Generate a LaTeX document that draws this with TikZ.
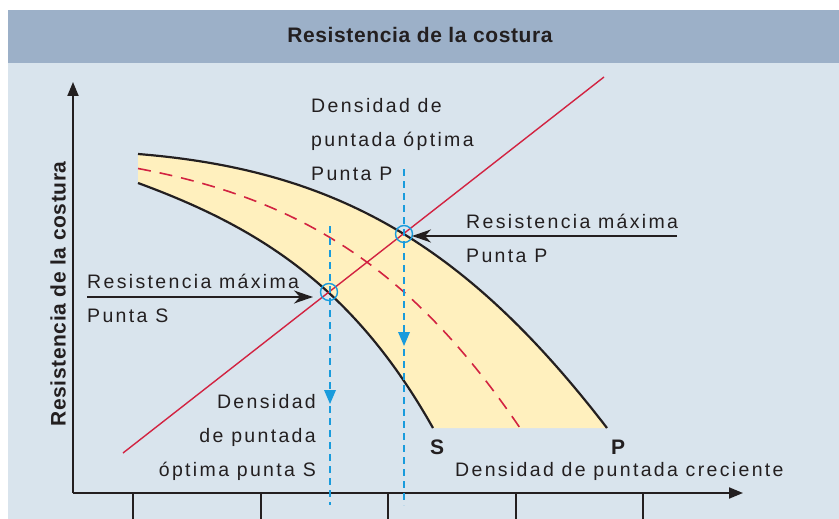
\documentclass[tikz,border=0pt]{standalone}
\usepackage{fontspec}
\setmainfont{Liberation Sans}
\newfontfamily\txtfont{Liberation Sans}[LetterSpace=12]
\newfontfamily\hdrfont{Liberation Sans}[LetterSpace=3]
\usetikzlibrary{arrows.meta}
\definecolor{hdrc}{RGB}{156,176,200}
\definecolor{bodyc}{RGB}{217,228,237}
\definecolor{bandc}{RGB}{255,240,190}
\definecolor{inkc}{RGB}{35,31,32}
\definecolor{redc}{RGB}{210,35,65}
\definecolor{bluec}{RGB}{25,155,220}
\tikzset{
  txt/.style={inner sep=0pt, text=inkc, font=\txtfont\fontsize{19.5}{34}\selectfont},
  boldtxt/.style={inner sep=0pt, text=inkc, font=\hdrfont\bfseries\fontsize{21}{25}\selectfont},
  curve/.style={draw=inkc, line width=2.2pt},
  axis/.style={draw=inkc, line width=2pt, -{Triangle[length=14pt,width=11pt]}},
  tick/.style={draw=inkc, line width=1.5pt},
  redline/.style={draw=redc, line width=1.4pt},
  reddash/.style={draw=redc, line width=1.6pt, dash pattern=on 13pt off 9pt},
  bluedash/.style={draw=bluec, line width=1.3pt, dash pattern=on 7pt off 5pt},
  ring/.style={circle, draw=bluec, line width=1.4pt, minimum size=17pt, inner sep=0pt},
  pointer/.style={draw=inkc, line width=1.6pt, -{Stealth[length=19pt,width=13pt,inset=6pt]}},
}
\begin{document}
\begin{tikzpicture}[x=1pt,y=-1pt]
\useasboundingbox (0,0) rectangle (839,519);
\fill[white] (0,0) rectangle (839,519);
\fill[hdrc] (8,10) rectangle (839,63);
\fill[bodyc] (8,63) rectangle (839,519);
\node[boldtxt] (title) at (420,35) {Resistencia de la costura};

% band
\fill[bandc] (138,154) .. controls (338,170) and (467,246) .. (607,428)
  -- (433,428) .. controls (353,286) and (258,227) .. (138,183) -- cycle;
\draw[curve] (138,154) .. controls (338,170) and (467,246) .. (607,428);
\draw[curve] (138,183) .. controls (258,227) and (353,286) .. (433,428);
\draw[reddash] (138,168.5) .. controls (298,198.5) and (410,266) .. (520,428);

% axes
\coordinate (O) at (73,493);
\coordinate (ytop) at (73,82);
\coordinate (xend) at (743,493);
\draw[axis] (O) -- (ytop);
\draw[axis] (O) -- (xend);
\foreach \i/\x in {1/133,2/261,3/388,4/516,5/643}{
  \coordinate (ta\i) at (\x,493);
  \coordinate (tb\i) at (\x,519);
  \draw[tick] (ta\i) -- (tb\i);
}

% red line
\coordinate (r0) at (123,453);
\coordinate (r1) at (604,77);
\draw[redline] (r0) -- (r1);

% blue dashed
\coordinate (bp0) at (404,169);
\coordinate (bp1) at (404,505);
\coordinate (bs0) at (330,226);
\coordinate (bs1) at (330,505);
\draw[bluedash] (bp0) -- (bp1);
\draw[bluedash] (bs0) -- (bs1);
\fill[bluec] (398,332) -- (410,332) -- (404,346) -- cycle;
\fill[bluec] (324,390) -- (336,390) -- (330,404) -- cycle;

% rings
\node[ring] (cp) at (404,234) {};
\node[ring] (cs) at (329,292) {};

% pointers
\coordinate (ap) at (677,236);
\coordinate (as) at (87,297);
\coordinate (ape) at (412,236);
\coordinate (ase) at (313,297);
\draw[pointer] (ap) -- (ape);
\draw[pointer] (as) -- (ase);

% texts (base anchor = baseline of last line)
\node[txt, anchor=base west, align=left] (t1) at (311,180) {Densidad de\\puntada óptima\\Punta P};
\node[txt, anchor=base west, align=left] (t2) at (466,262) {Resistencia máxima\\Punta P};
\node[txt, anchor=base west, align=left] (t3) at (87,322) {Resistencia máxima\\Punta S};
\node[txt, anchor=base east, align=right] (t4) at (316,476) {Densidad\\de puntada\\óptima punta S};
\node[boldtxt, anchor=base] (ls) at (437,454) {S};
\node[boldtxt, anchor=base] (lp) at (618,454) {P};
\node[txt, anchor=base west] (xl) at (455,476) {Densidad de puntada creciente};
\node[boldtxt, rotate=90] (yl) at (58,294) {Resistencia de la costura};
\end{tikzpicture}
\end{document}
